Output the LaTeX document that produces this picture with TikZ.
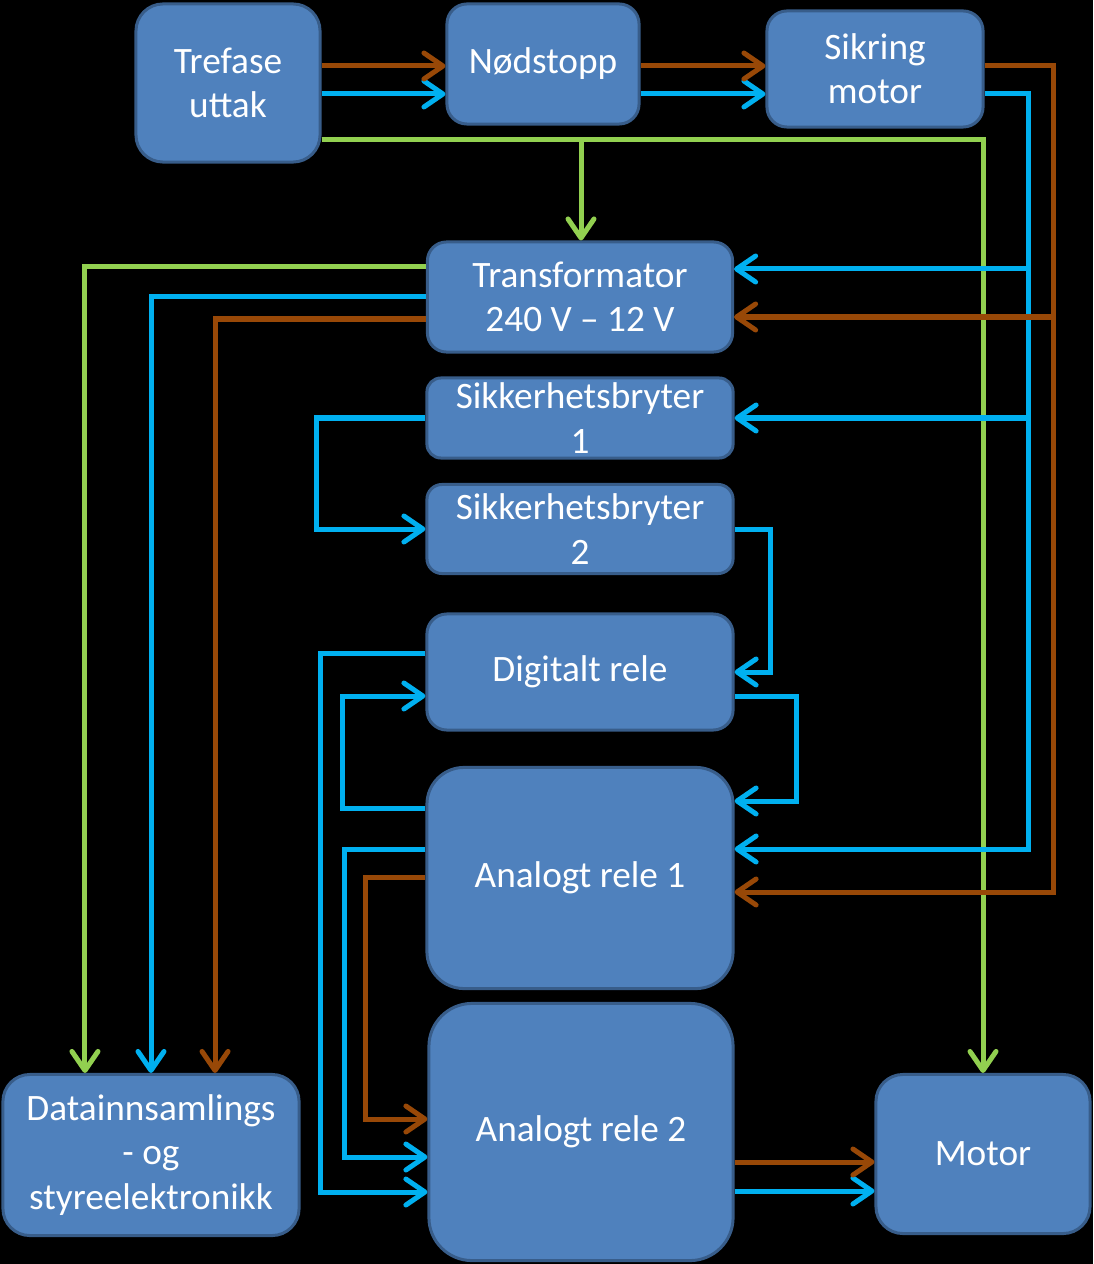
\documentclass[tikz,border=0pt]{standalone}
\usepackage{fontspec}
\setmainfont{Carlito}
\usetikzlibrary{arrows.meta}
\definecolor{boks}{RGB}{79,129,189}
\definecolor{kant}{RGB}{56,93,138}
\definecolor{fase}{RGB}{152,72,7}
\definecolor{null}{RGB}{0,176,240}
\definecolor{jord}{RGB}{146,208,80}
\tikzstyle{blokk} = [rectangle, draw=kant, line width=0.03cm, fill=boks, text=white, align=center, inner sep=0pt, font=\fontsize{10.6}{12.6}\selectfont]
\tikzstyle{leder} = [line width=0.05cm, -{Straight Barb[length=0.19cm, width=0.26cm, round]}]
\tikzstyle{brun} = [leder, draw=fase]
\tikzstyle{blaa} = [leder, draw=null]
\tikzstyle{groenn} = [leder, draw=jord]

\begin{document}
\begin{tikzpicture}[x=0.01cm, y=-0.01cm]

\fill[black] (0,0) rectangle (1093,1264);
\useasboundingbox (0,0) rectangle (1093,1264);

\node (0) [blokk, minimum width=1.84cm, minimum height=1.58cm, rounded corners=0.27cm] at (228,83) {Trefase\\uttak};
\node (1) [blokk, minimum width=1.92cm, minimum height=1.2cm, rounded corners=0.2cm] at (543,64) {Nødstopp};
\node (2) [blokk, minimum width=2.16cm, minimum height=1.16cm, rounded corners=0.2cm] at (875,69) {Sikring\\motor};
\node (3) [blokk, minimum width=3.05cm, minimum height=1.1cm, rounded corners=0.19cm] at (580,297) {Transformator\\240 V – 12 V};
\node (4) [blokk, minimum width=3.06cm, minimum height=0.8cm, rounded corners=0.14cm] at (580,418) {Sikkerhetsbryter\\1};
\node (5) [blokk, minimum width=3.06cm, minimum height=0.89cm, rounded corners=0.15cm] at (580,529) {Sikkerhetsbryter\\2};
\node (6) [blokk, minimum width=3.06cm, minimum height=1.16cm, rounded corners=0.2cm] at (580,672) {Digitalt rele};
\node (7) [blokk, minimum width=3.06cm, minimum height=2.21cm, rounded corners=0.37cm] at (580,878) {Analogt rele 1};
\node (8) [blokk, minimum width=3.04cm, minimum height=2.57cm, rounded corners=0.43cm] at (581,1132) {Analogt rele 2};
\node (9) [blokk, minimum width=2.96cm, minimum height=1.61cm, rounded corners=0.27cm] at (151,1155) {Datainnsamlings\\- og\\styreelektronikk};
\node (10) [blokk, minimum width=2.14cm, minimum height=1.59cm, rounded corners=0.27cm] at (983,1154) {Motor};

% skinner
\coordinate (gs) at (581,140);
\coordinate (gh) at (983,140);
\coordinate (bs) at (1028,94);
\coordinate (be) at (1028,849);
\coordinate (rs) at (1053,66);
\coordinate (re) at (1053,892);

% jord
\draw [groenn] (0.east |- gs) -- (gh) -- (gh |- 10.north);
\draw [groenn] (gs) -- (gs |- 3.north);
\draw [groenn] (3.west |- 0,267) -| ([xshift=-0.66cm]9.north);

% null
\draw [blaa] (0.east |- bs) -- (1.west |- bs);
\draw [blaa] (1.east |- bs) -- (2.west |- bs);
\draw [blaa] (2.east |- bs) -- (bs) -- (be) -- (7.east |- be);
\draw [blaa] (bs |- 0,269) -- (3.east |- 0,269);
\draw [blaa] (bs |- 4.east) -- (4.east);
\draw [blaa] (3.west) -| (9.north);
\draw [blaa] (4.west) -- ++(-109,0) |- (5.west);
\draw [blaa] (5.east) -- ++(36,0) |- (6.east);
\draw [blaa] (6.east |- 0,696) -- ++(62,0) |- (7.east |- 0,801);
\draw [blaa] (7.west |- 0,808) -- ++(-83,0) |- (6.west |- 0,696);
\draw [blaa] (6.west |- 0,653) -- ++(-105,0) |- (8.west |- 0,1192);
\draw [blaa] (7.west |- be) -- ++(-81,0) |- (8.west |- 0,1157);
\draw [blaa] (8.east |- 0,1191) -- (10.west |- 0,1191);

% fase
\draw [brun] (0.east |- rs) -- (1.west |- rs);
\draw [brun] (1.east |- rs) -- (2.west |- rs);
\draw [brun] (2.east |- rs) -- (rs) -- (re) -- (7.east |- re);
\draw [brun] (rs |- 0,317) -- (3.east |- 0,317);
\draw [brun] (3.west |- 0,319) -| ([xshift=0.64cm]9.north);
\draw [brun] (7.west |- 0,877) -- ++(-60,0) |- (8.west |- 0,1119);
\draw [brun] (8.east |- 0,1162) -- (10.west |- 0,1162);

\end{tikzpicture}
\end{document}
